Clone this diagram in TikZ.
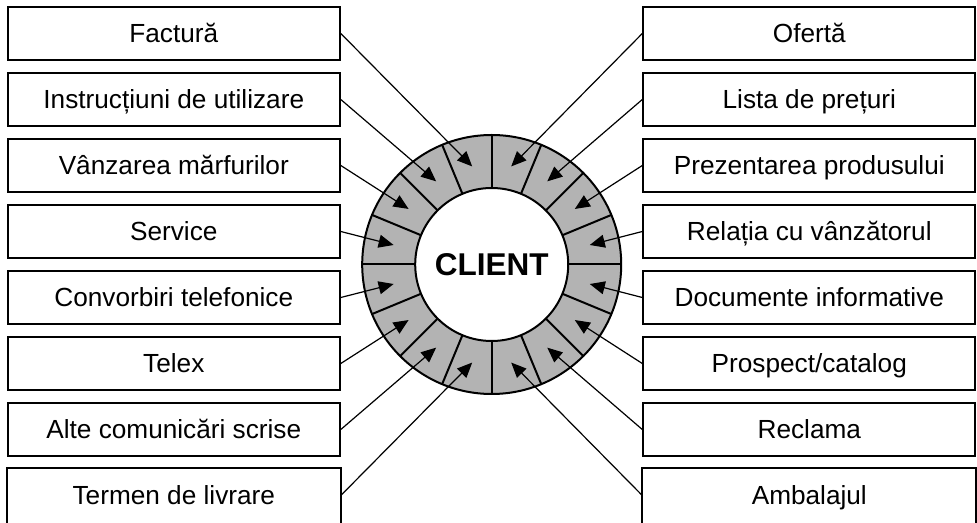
\documentclass[tikz,border=0pt]{standalone}
\usepackage{fontspec}
\setmainfont{Liberation Sans}
\usetikzlibrary{arrows.meta,calc}
\definecolor{ringgray}{RGB}{179,179,179}
\begin{document}
\begin{tikzpicture}[x=1pt,y=1pt,
  box/.style={draw, line width=2pt, minimum width=332pt, minimum height=52.4pt,
    inner sep=0pt, text height=24pt, text depth=5.2pt,
    font=\fontsize{26.2}{30}\selectfont},
  openbox/.style={box, draw=none},
  conn/.style={line width=1.2pt, -{Triangle[length=15pt,width=13pt]}},
  ringline/.style={line width=2pt}]
\useasboundingbox (0,0) rectangle (977,522);
\clip (0,0) rectangle (977,522);
\coordinate (C) at (491.7,257.5);
% ring
\fill[ringgray] (C) circle (129.5);
\fill[white] (C) circle (76.5);
\foreach \a in {0,22.5,...,337.5}
  \draw[ringline] ($(C)+(\a:76.5)$) -- ($(C)+(\a:129.5)$);
\draw[ringline] (C) circle (129.5) (C) circle (76.5);
\node[font=\fontsize{31.5}{36}\selectfont\bfseries, text height=28.6pt, text depth=6pt, inner sep=0pt] (client) at (C) {CLIENT};
% left boxes
\foreach \t [count=\i from 0] in {Factură,Instrucțiuni de utilizare,Vânzarea mărfurilor,Service,Convorbiri telefonice,Telex,Alte comunicări scrise}
  \node[box] (L\i) at (173.8,488.5-66*\i) {\t};
\node[openbox] (L7) at (173.8,488.5-66*7) {Termen de livrare};
\draw[line width=2pt] (L7.south west) -- (L7.north west) -- (L7.north east) -- (L7.south east);
% right boxes
\foreach \t [count=\i from 0] in {Ofertă,Lista de prețuri,Prezentarea produsului,Relația cu vânzătorul,Documente informative,Prospect/catalog,Reclama}
  \node[box] (R\i) at (809.3,488.5-66*\i) {\t};
\node[openbox] (R7) at (809.3,488.5-66*7) {Ambalajul};
\draw[line width=2pt] (R7.south west) -- (R7.north west) -- (R7.north east) -- (R7.south east);
% connectors
\foreach \i in {0,...,7} {
  \pgfmathsetmacro\angl{101.25+22.5*\i}
  \pgfmathsetmacro\angr{78.75-22.5*\i}
  \coordinate (tl\i) at ($(C)+(\angl:100)$);
  \coordinate (tr\i) at ($(C)+(\angr:100)$);
  \draw[conn] (L\i.east) -- (tl\i);
  \draw[conn] (R\i.west) -- (tr\i);
}
\end{tikzpicture}
\end{document}
